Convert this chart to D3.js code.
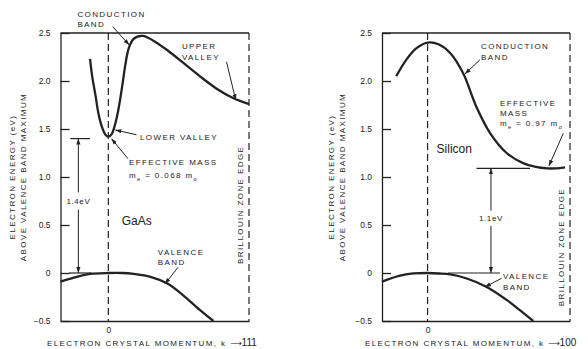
<!DOCTYPE html>
<html>
<head>
<meta charset="utf-8">
<script src="https://cdn.jsdelivr.net/npm/d3@7"></script>
<style>
body { margin: 0; background: #fff; }
text { font-family: "Liberation Sans", Arial, sans-serif; fill: #222; }
.lbl { font-size: 8px; letter-spacing: 1.4px; }
.tick text { font-size: 8.5px; font-family: "Liberation Sans", Arial, sans-serif; fill: #222; }
</style>
</head>
<body>
<svg id="chart" width="588" height="349"></svg>
<script>
// energy axis
var energyTicks = [-0.5, 0, 0.5, 1, 1.5, 2, 2.5]
var tickLabels = ['\u22120.5', '0', '0.5', '1.0', '1.5', '2.0', '2.5']

// GaAs bands (k as fraction of zone edge, E in eV)
var gaasCondK = [-0.13, -0.115, -0.09, -0.07, -0.045, -0.02, 0, 0.025, 0.05, 0.075, 0.1, 0.12, 0.145, 0.18, 0.245, 0.32, 0.42, 0.54, 0.65, 0.77, 0.89, 1.0]
var gaasCondE = [2.23, 2.05, 1.84, 1.66, 1.52, 1.44, 1.42, 1.45, 1.56, 1.73, 1.96, 2.16, 2.34, 2.44, 2.47, 2.42, 2.32, 2.18, 2.05, 1.92, 1.82, 1.76]
var gaasValK = [-0.34, -0.25, -0.13, 0, 0.1, 0.18, 0.3, 0.42, 0.53, 0.65, 0.747]
var gaasValE = [-0.09, -0.05, -0.01, 0, 0, -0.01, -0.04, -0.11, -0.23, -0.385, -0.5]

// Silicon bands
var siCondK = [-0.22, -0.15, -0.08, 0, 0.08, 0.16, 0.25, 0.34, 0.44, 0.555, 0.67, 0.76, 0.84, 0.9, 0.965]
var siCondE = [2.05, 2.22, 2.34, 2.40, 2.38, 2.29, 2.08, 1.74, 1.455, 1.25, 1.145, 1.105, 1.09, 1.09, 1.10]
var siValK = [-0.32, -0.2, -0.1, 0, 0.08, 0.16, 0.27, 0.415, 0.555, 0.65, 0.742]
var siValE = [-0.09, -0.03, -0.005, 0, -0.005, -0.015, -0.055, -0.145, -0.28, -0.39, -0.5]

var svg = d3.select('#chart')
var y = d3.scaleLinear().domain([-0.5, 2.5]).range([321, 33])

var defs = svg.append('defs')
defs.append('marker')
	.attr('id', 'ah')
	.attr('viewBox', '0 0 10 10')
	.attr('refX', 10).attr('refY', 5)
	.attr('markerWidth', 6).attr('markerHeight', 6)
	.attr('orient', 'auto-start-reverse')
	.append('path').attr('d', 'M0,1.5L10,5L0,8.5Z').attr('fill', '#222')

function panel(left, right, kMin) {
	var x = d3.scaleLinear().domain([kMin, 1]).range([left, right])
	var g = svg.append('g')

	var ya = g.append('g')
		.attr('transform', 'translate(' + left + ',0)')
		.call(d3.axisLeft(y).tickValues(energyTicks)
			.tickFormat(function(d, i) { return tickLabels[i] })
			.tickSize(-9).tickSizeOuter(0).tickPadding(10))
	ya.selectAll('path,line').attr('stroke', '#222').attr('stroke-width', 1.3)

	var xa = g.append('g')
		.attr('transform', 'translate(0,' + y(-0.5) + ')')
		.call(d3.axisBottom(x).tickValues([0]).tickFormat(function() { return '0' })
			.tickSize(0).tickSizeOuter(0).tickPadding(6))
	xa.selectAll('path').attr('stroke', '#222').attr('stroke-width', 1.3)

	// top frame
	g.append('line')
		.attr('x1', x(kMin)).attr('x2', x(1))
		.attr('y1', y(2.5)).attr('y2', y(2.5))
		.attr('stroke', '#222').attr('stroke-width', 1.3)

	// k = 0 and zone edge
	;[0, 1].forEach(function(k) {
		g.append('line')
			.attr('x1', x(k)).attr('x2', x(k))
			.attr('y1', y(2.5)).attr('y2', y(-0.5))
			.attr('stroke', '#222').attr('stroke-width', 1.2)
			.attr('stroke-dasharray', '7,4')
	})

	return { g: g, x: x }
}

function curve(p, ks, es) {
	var line = d3.line()
		.x(function(d) { return p.x(d[0]) })
		.y(function(d) { return y(d[1]) })
		.curve(d3.curveCatmullRom.alpha(0.5))
	p.g.append('path')
		.attr('d', line(d3.zip(ks, es)))
		.attr('fill', 'none')
		.attr('stroke', '#222')
		.attr('stroke-width', 2.3)
}

function text(p, k, e, lines, cls, anchor) {
	var t = p.g.append('text')
		.attr('class', cls || 'lbl')
		.attr('text-anchor', anchor || 'start')
		.attr('x', p.x(k)).attr('y', y(e))
	lines.forEach(function(s, i) {
		t.append('tspan').attr('x', p.x(k)).attr('dy', i ? 10.5 : 0).text(s)
	})
	return t
}

function arrow(p, k1, e1, k2, e2, both) {
	var l = p.g.append('line')
		.attr('x1', p.x(k1)).attr('y1', y(e1))
		.attr('x2', p.x(k2)).attr('y2', y(e2))
		.attr('stroke', '#222').attr('stroke-width', 1)
		.attr('marker-end', 'url(#ah)')
	if (both) l.attr('marker-start', 'url(#ah)')
}

function hline(p, k1, k2, e) {
	p.g.append('line')
		.attr('x1', p.x(k1)).attr('x2', p.x(k2))
		.attr('y1', y(e)).attr('y2', y(e))
		.attr('stroke', '#222').attr('stroke-width', 1.2)
}

function mass(p, k, e, val) {
	var t = p.g.append('text').attr('class', 'lbl').attr('x', p.x(k)).attr('y', y(e))
	t.append('tspan').text('m')
	t.append('tspan').attr('dy', 3).style('font-size', '5.5px').text('e')
	t.append('tspan').attr('dy', -3).text(' = ' + val + ' m')
	t.append('tspan').attr('dy', 3).style('font-size', '5.5px').text('o')
}

function yTitle(xc) {
	var t = svg.append('text').attr('class', 'lbl')
		.attr('text-anchor', 'middle')
		.attr('transform', 'translate(' + xc + ',177) rotate(-90)')
	t.append('tspan').attr('x', 0).attr('y', 0).text('ELECTRON ENERGY (eV)')
	t.append('tspan').attr('x', 0).attr('y', 10.5).text('ABOVE VALENCE BAND MAXIMUM')
}

function xTitle(x0, dir) {
	var t = svg.append('text').attr('class', 'lbl').attr('x', x0).attr('y', 346)
	t.append('tspan').text('ELECTRON CRYSTAL MOMENTUM, k ')
	t.append('tspan').style('font-family', 'DejaVu Sans').style('letter-spacing', '0px').text('\u27F6')
	t.append('tspan').style('font-size', '10px').style('letter-spacing', '0px').text(dir)
}

function zoneEdge(p, k, e) {
	p.g.append('text').attr('class', 'lbl')
		.attr('text-anchor', 'middle')
		.attr('transform', 'translate(' + p.x(k) + ',' + y(e) + ') rotate(-90)')
		.text('BRILLOUIN ZONE EDGE')
}

// ---- GaAs ----
var a = panel(60.5, 249, -0.34)
curve(a, gaasCondK, gaasCondE)
curve(a, gaasValK, gaasValE)

text(a, -0.22, 2.67, ['CONDUCTION', 'BAND'])
arrow(a, 0.031, 2.566, 0.149, 2.375)
text(a, 0.523, 2.33, ['UPPER', 'VALLEY'])
arrow(a, 0.84, 2.2, 0.906, 1.8)
text(a, 0.225, 1.385, ['LOWER VALLEY'])
arrow(a, 0.2, 1.44, 0.05, 1.49)
text(a, 0.147, 1.125, ['EFFECTIVE MASS'])
arrow(a, 0.14, 1.19, 0.022, 1.40)
mass(a, 0.147, 0.99, '0.068')

hline(a, -0.27, -0.13, 1.4)
hline(a, -0.28, -0.12, 0)
arrow(a, -0.213, 0.84, -0.213, 1.4)
arrow(a, -0.213, 0.66, -0.213, 0)
text(a, -0.213, 0.72, ['1.4eV'], 'lbl', 'middle').style('letter-spacing', '0.6px')
text(a, 0.095, 0.5, ['GaAs']).attr('class', null).style('font-size', '12px')
text(a, 0.352, 0.19, ['VALENCE', 'BAND'])
arrow(a, 0.496, 0.06, 0.402, -0.115)
zoneEdge(a, 0.955, 0.71)

// ---- Silicon ----
var b = panel(382, 570, -0.32)
curve(b, siCondK, siCondE)
curve(b, siValK, siValE)

text(b, 0.375, 2.333, ['CONDUCTION', 'BAND'])
arrow(b, 0.367, 2.22, 0.262, 2.073)
text(b, 0.508, 1.74, ['EFFECTIVE', 'MASS'])
mass(b, 0.508, 1.535, '0.97')
arrow(b, 0.953, 1.455, 0.852, 1.115)
text(b, 0.063, 1.25, ['Silicon']).attr('class', null).style('font-size', '12px')

hline(b, 0.344, 0.719, 1.09)
hline(b, 0.143, 0.508, 0)
arrow(b, 0.445, 0.65, 0.445, 1.09)
arrow(b, 0.445, 0.49, 0.445, 0)
text(b, 0.445, 0.54, ['1.1eV'], 'lbl', 'middle').style('letter-spacing', '0.6px')
text(b, 0.529, -0.0625, ['VALENCE', 'BAND'])
arrow(b, 0.52, -0.055, 0.403, -0.146)
zoneEdge(b, 0.955, 0.27)

// titles
yTitle(15)
yTitle(334)
xTitle(47, '111')
xTitle(365, '100')
</script>
</body>
</html>
